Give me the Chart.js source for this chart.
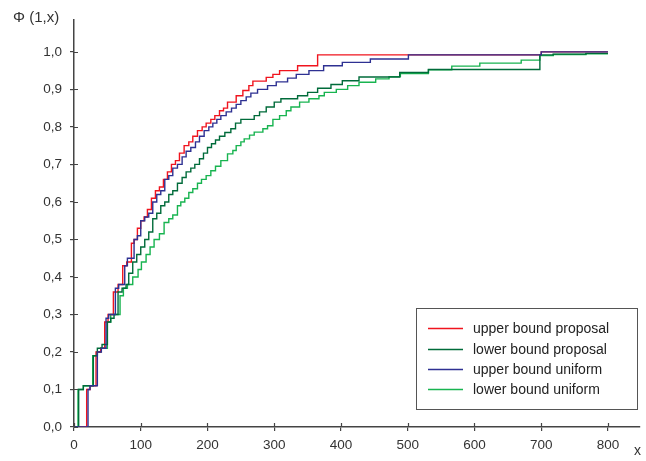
<!DOCTYPE html>
<html>
<head>
<meta charset="utf-8">
<script src="https://cdn.jsdelivr.net/npm/chart.js@4.4.1/dist/chart.umd.min.js"></script>
<style>
  html, body { margin: 0; padding: 0; background: #fff; }
  #wrap { width: 646px; height: 461px; }
</style>
</head>
<body>
<div id="wrap"><canvas id="cdfChart" width="646" height="461"></canvas></div>
<script>
// tick labels
var xTicks = [0, 100, 200, 300, 400, 500, 600, 700, 800];
var yTicks = [0, 0.1, 0.2, 0.3, 0.4, 0.5, 0.6, 0.7, 0.8, 0.9, 1.0];

var seriesNames = ['upper bound proposal', 'lower bound proposal', 'upper bound uniform', 'lower bound uniform'];

// upper bound proposal (red)
var redX = [0, 19, 24, 33, 40, 46, 51, 59, 66, 73, 79, 86, 90, 95, 100, 105, 110, 116, 122, 128, 134, 140, 146, 152, 158, 165, 172, 178, 185, 192, 198, 205, 211, 218, 224, 230, 243, 253, 262, 268, 288, 298, 308, 335, 365, 700, 800];
var redY = [0, 0.10, 0.11, 0.20, 0.21, 0.28, 0.30, 0.36, 0.38, 0.43, 0.44, 0.49, 0.50, 0.53, 0.55, 0.56, 0.58, 0.61, 0.63, 0.64, 0.66, 0.68, 0.70, 0.71, 0.73, 0.75, 0.76, 0.775, 0.79, 0.80, 0.81, 0.82, 0.83, 0.843, 0.85, 0.866, 0.883, 0.897, 0.91, 0.922, 0.932, 0.94, 0.95, 0.963, 0.992, 1.0, 1.0];

// lower bound proposal (dark green)
var dgreenX = [0, 7, 14, 29, 35, 42, 50, 55, 60, 66, 72, 78, 82, 88, 94, 100, 106, 112, 118, 124, 130, 136, 142, 148, 155, 162, 168, 175, 181, 188, 194, 200, 206, 212, 218, 226, 235, 242, 250, 270, 278, 288, 300, 310, 335, 350, 365, 385, 402, 427, 488, 531, 698, 718, 767, 800];
var dgreenY = [0, 0.10, 0.11, 0.19, 0.21, 0.22, 0.28, 0.29, 0.30, 0.36, 0.37, 0.38, 0.41, 0.44, 0.46, 0.48, 0.50, 0.52, 0.555, 0.57, 0.59, 0.60, 0.62, 0.63, 0.65, 0.665, 0.68, 0.69, 0.70, 0.715, 0.73, 0.745, 0.755, 0.765, 0.775, 0.785, 0.795, 0.81, 0.82, 0.83, 0.84, 0.853, 0.866, 0.875, 0.883, 0.892, 0.903, 0.913, 0.923, 0.933, 0.945, 0.953, 0.992, 0.994, 0.996, 0.996];

// upper bound uniform (blue)
var blueX = [0, 21, 24, 35, 41, 48, 52, 62, 67, 76, 80, 90, 95, 100, 106, 112, 118, 124, 130, 136, 142, 148, 155, 162, 168, 175, 182, 188, 195, 202, 208, 214, 220, 228, 236, 243, 250, 258, 265, 275, 290, 303, 320, 333, 352, 374, 402, 444, 501, 700, 800];
var blueY = [0, 0.10, 0.11, 0.20, 0.21, 0.29, 0.30, 0.37, 0.38, 0.43, 0.45, 0.50, 0.51, 0.55, 0.56, 0.57, 0.60, 0.62, 0.63, 0.66, 0.67, 0.69, 0.70, 0.72, 0.735, 0.745, 0.76, 0.775, 0.79, 0.80, 0.81, 0.82, 0.83, 0.84, 0.85, 0.86, 0.87, 0.88, 0.89, 0.90, 0.91, 0.92, 0.93, 0.94, 0.95, 0.963, 0.972, 0.981, 0.992, 1.0, 1.0];

// lower bound uniform (light green)
var lgreenX = [0, 6, 14, 28, 34, 40, 50, 55, 69, 74, 80, 88, 96, 101, 108, 114, 120, 128, 135, 142, 148, 155, 160, 166, 172, 178, 185, 191, 198, 205, 212, 220, 230, 238, 243, 250, 255, 263, 270, 283, 290, 298, 308, 318, 325, 338, 352, 367, 375, 393, 410, 427, 452, 472, 489, 531, 566, 608, 670, 698, 718, 767, 800];
var lgreenY = [0, 0.10, 0.11, 0.19, 0.20, 0.21, 0.28, 0.30, 0.35, 0.37, 0.38, 0.40, 0.42, 0.44, 0.46, 0.48, 0.50, 0.515, 0.545, 0.555, 0.565, 0.59, 0.60, 0.61, 0.625, 0.635, 0.65, 0.66, 0.67, 0.683, 0.695, 0.71, 0.728, 0.737, 0.75, 0.76, 0.768, 0.778, 0.786, 0.795, 0.803, 0.82, 0.83, 0.843, 0.853, 0.866, 0.875, 0.883, 0.892, 0.90, 0.91, 0.919, 0.928, 0.934, 0.942, 0.952, 0.962, 0.97, 0.978, 0.99, 0.993, 0.995, 0.995];

var colors = ['#f0141e', '#006b3a', '#2e3192', '#18b450'];

function toPoints(xs, ys) {
    return xs.map(function (x, i) { return { x: x, y: ys[i] }; });
}

function fmtComma(v) {
    return v.toFixed(1).replace('.', ',');
}

var FONT = '"Liberation Sans", Arial, sans-serif';

// ticks crossing the axis lines, plus axis captions and the boxed legend
var decorPlugin = {
    id: 'decor',
    afterDraw: function (chart) {
        var ctx = chart.ctx;
        var xs = chart.scales.x;
        var ys = chart.scales.y;
        var area = chart.chartArea;

        ctx.save();
        ctx.strokeStyle = '#444';
        ctx.lineWidth = 1.2;
        ctx.beginPath();
        yTicks.forEach(function (t) {
            var py = Math.round(ys.getPixelForValue(t)) + 0.5;
            ctx.moveTo(area.left, py);
            ctx.lineTo(area.left + 4, py);
        });
        xTicks.forEach(function (t) {
            var px = Math.round(xs.getPixelForValue(t)) + 0.5;
            ctx.moveTo(px, area.bottom);
            ctx.lineTo(px, area.bottom - 4);
        });
        ctx.stroke();

        ctx.fillStyle = '#333';
        ctx.textBaseline = 'alphabetic';
        ctx.textAlign = 'left';
        ctx.font = '15px ' + FONT;
        ctx.fillText('\u03A6 (1,x)', 13, 22);
        ctx.font = '14px ' + FONT;
        ctx.fillText('x', 634, 455);

        // legend box
        var bx = 416.5, by = 308.5, bw = 221, bh = 101;
        ctx.fillStyle = '#fff';
        ctx.fillRect(bx, by, bw, bh);
        ctx.strokeStyle = '#555';
        ctx.lineWidth = 1;
        ctx.strokeRect(bx, by, bw, bh);

        var rowY = [328, 349, 369, 389];
        ctx.font = '14px ' + FONT;
        ctx.textBaseline = 'middle';
        seriesNames.forEach(function (name, i) {
            ctx.strokeStyle = colors[i];
            ctx.lineWidth = 1.3;
            ctx.beginPath();
            ctx.moveTo(428, rowY[i] + 0.5);
            ctx.lineTo(463, rowY[i] + 0.5);
            ctx.stroke();
            ctx.fillStyle = '#222';
            ctx.fillText(name, 473, rowY[i] + 1);
        });
        ctx.restore();
    }
};

var lineOpts = function (label, xs, ys, color, order) {
    return {
        label: label,
        data: toPoints(xs, ys),
        borderColor: color,
        backgroundColor: color,
        borderWidth: 1.4,
        pointRadius: 0,
        stepped: true,
        fill: false,
        order: order
    };
};

var chart = new Chart(document.getElementById('cdfChart'), {
    type: 'line',
    data: {
        datasets: [
            lineOpts(seriesNames[0], redX, redY, colors[0], 2),
            lineOpts(seriesNames[1], dgreenX, dgreenY, colors[1], 1),
            lineOpts(seriesNames[2], blueX, blueY, colors[2], 0),
            lineOpts(seriesNames[3], lgreenX, lgreenY, colors[3], 3)
        ]
    },
    options: {
        responsive: false,
        animation: false,
        devicePixelRatio: 1,
        layout: { padding: { top: 20, right: 6, left: 0, bottom: 0 } },
        plugins: {
            legend: { display: false },
            tooltip: { enabled: false }
        },
        scales: {
            x: {
                type: 'linear',
                min: 0,
                max: 848,
                afterBuildTicks: function (scale) {
                    scale.ticks = xTicks.map(function (v) { return { value: v }; });
                },
                afterFit: function (scale) { scale.height = 34; },
                border: { display: true, color: '#444', width: 1.5 },
                grid: { drawOnChartArea: false, drawTicks: true, tickLength: 4, color: '#444', lineWidth: 1.2 },
                ticks: {
                    color: '#333',
                    font: { family: FONT, size: 13.5 },
                    padding: 6,
                    maxRotation: 0,
                    autoSkip: false
                }
            },
            y: {
                type: 'linear',
                min: 0,
                max: 1.085,
                afterBuildTicks: function (scale) {
                    scale.ticks = yTicks.map(function (v) { return { value: v }; });
                },
                afterFit: function (scale) { scale.width = 74; },
                border: { display: true, color: '#444', width: 1.5 },
                grid: { drawOnChartArea: false, drawTicks: true, tickLength: 4, color: '#444', lineWidth: 1.2 },
                ticks: {
                    color: '#333',
                    font: { family: FONT, size: 13.5 },
                    padding: 8,
                    autoSkip: false,
                    callback: function (v) { return fmtComma(v); }
                }
            }
        }
    },
    plugins: [decorPlugin]
});
</script>
</body>
</html>
